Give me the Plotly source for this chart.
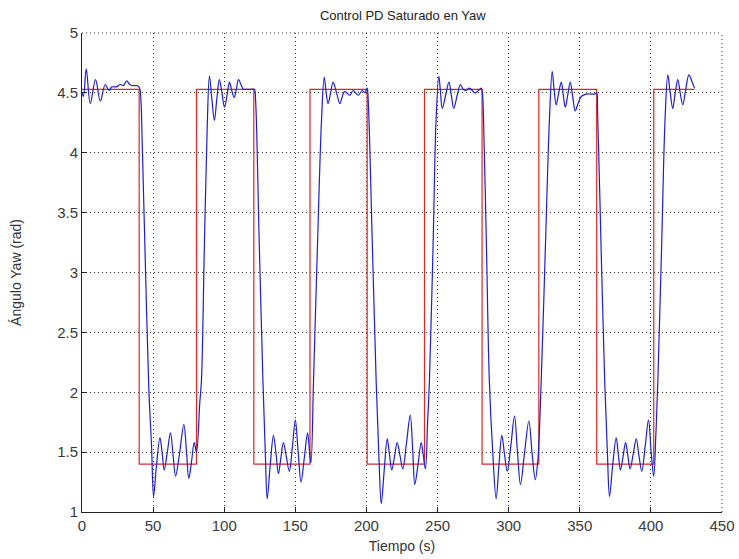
import plotly.graph_objects as go

# Reference (red) step signal: switching times and levels
ref_t = [0, 40.2, 80.5, 120.8, 160.3, 200.5, 240.8, 281.3, 321.2, 361.9, 402.0, 430.7]
ref_y = [4.53, 1.40, 4.53, 1.40, 4.53, 1.40, 4.53, 1.40, 4.53, 1.40, 4.53, 4.53]

yaw_t = [
    0, 1, 3.0, 5.8, 9.5, 12.9, 16.3, 19, 21, 24, 27, 29, 31.5, 33.5, 36, 39, 40.5,
    41.5, 42.3, 44.6, 47.0, 48.9, 50.3,
    52.3, 54.8, 56.3, 57.8, 60, 62.2, 64, 65.8, 68.5, 71.6, 73.5, 75.1, 77, 78.9, 80.5, 82.8, 84,
    86, 88, 89.6,
    91.3, 93.1, 94.8, 96.6, 98.4, 100.2, 102, 103.7, 105.3, 107, 108.5, 110, 111.8, 113.5, 116, 119, 121.2,
    122, 124.5, 127.2, 129, 130.2,
    132.4, 134.6, 136.3, 138.1, 139.8, 141.6, 143.7, 145.8, 148, 150, 152, 154, 156.3, 158.6, 160, 161, 162.8,
    165.5, 168.4, 170.3,
    171.7, 173, 174.8, 176.6, 179, 181.3, 182.8, 184.4, 186.3, 188.3, 190.7, 194.2, 197, 198.9, 200.5,
    201.2, 204, 206.8, 208.8, 210.4,
    212.5, 214.6, 216.2, 217.8, 219.7, 221.6, 223.6, 225.6, 228.2, 230.8, 232.6, 234, 236.3, 238.5, 240, 241.5, 243, 244.3,
    246.8, 249, 250.9,
    252.1, 253.3, 255.7, 258, 259.7, 261.4, 263.8, 266.1, 268, 270.1, 272, 273.6, 275, 276.7, 278.7, 280.7, 281.5,
    282.3, 284.4, 286.4, 288.8, 291.2,
    293.2, 295.2, 297.1, 299, 301.5, 304.1, 306.2, 308.3, 311.2, 314.2, 316.4, 318.7, 320.5, 322.9,
    325.8, 328.7, 330.6,
    332, 333.4, 335.2, 337, 338.4, 339.8, 341.5, 343.3, 345, 346.8, 349, 351, 354.5, 358, 360.4, 361.8,
    362.5, 365.0, 367.5, 369.4, 370.9,
    373.2, 375.6, 377.1, 378.6, 380.4, 382.2, 383.8, 385.4, 387.5, 389.7, 391.6, 393.6, 396, 398.3, 400.2, 402, 403.5, 404.9,
    407.5, 410, 411.9,
    413.6, 415.4, 417.1, 418.9, 420.6, 422.4, 424.5, 426.7, 428.7, 430.7,
]
yaw_y = [
    4.50, 4.47, 4.70, 4.41, 4.61, 4.43, 4.57, 4.52, 4.55, 4.55, 4.57, 4.56, 4.60, 4.57, 4.56, 4.56, 4.54,
    4.42, 4.10, 3.05, 2.02, 1.55, 1.13,
    1.38, 1.62, 1.50, 1.35, 1.50, 1.66, 1.48, 1.30, 1.48, 1.73, 1.50, 1.28, 1.42, 1.58, 1.50, 1.91, 2.10,
    3.20, 4.20, 4.64,
    4.45, 4.27, 4.45, 4.61, 4.50, 4.38, 4.48, 4.59, 4.52, 4.46, 4.53, 4.61, 4.57, 4.53, 4.53, 4.53, 4.53,
    4.45, 3.30, 2.10, 1.45, 1.11,
    1.40, 1.64, 1.50, 1.32, 1.45, 1.58, 1.46, 1.34, 1.55, 1.77, 1.50, 1.25, 1.45, 1.66, 1.50, 1.41, 2.10,
    3.20, 4.27, 4.63,
    4.50, 4.41, 4.50, 4.59, 4.50, 4.41, 4.46, 4.51, 4.50, 4.48, 4.52, 4.48, 4.52, 4.50, 4.54,
    4.45, 3.30, 2.10, 1.45, 1.07,
    1.35, 1.61, 1.48, 1.35, 1.46, 1.58, 1.47, 1.36, 1.58, 1.81, 1.50, 1.23, 1.40, 1.58, 1.47, 1.36, 1.75, 2.10,
    3.20, 4.29, 4.64,
    4.50, 4.37, 4.48, 4.59, 4.48, 4.37, 4.48, 4.57, 4.53, 4.52, 4.54, 4.53, 4.51, 4.50, 4.52, 4.54, 4.50,
    4.30, 3.20, 2.10, 1.50, 1.11,
    1.40, 1.64, 1.48, 1.34, 1.55, 1.80, 1.50, 1.23, 1.50, 1.76, 1.50, 1.27, 1.43, 2.10,
    3.20, 4.29, 4.68,
    4.52, 4.40, 4.50, 4.59, 4.48, 4.38, 4.48, 4.59, 4.47, 4.35, 4.42, 4.47, 4.49, 4.49, 4.49, 4.50,
    4.35, 3.20, 2.10, 1.50, 1.13,
    1.40, 1.62, 1.48, 1.35, 1.46, 1.58, 1.47, 1.36, 1.48, 1.61, 1.47, 1.34, 1.55, 1.77, 1.50, 1.30, 1.65, 2.10,
    3.20, 4.29, 4.65,
    4.50, 4.37, 4.50, 4.61, 4.50, 4.40, 4.53, 4.65, 4.60, 4.54,
]

x_ticks = [0, 50, 100, 150, 200, 250, 300, 350, 400, 450]
y_ticks = [1, 1.5, 2, 2.5, 3, 3.5, 4, 4.5, 5]

FONT = "Liberation Sans, Arial, sans-serif"
GRID_DASH = "1px,3px"

fig = go.Figure()
fig.add_trace(go.Scatter(x=ref_t, y=ref_y, mode="lines", line=dict(color="rgb(220,40,40)", width=1.2, shape="hv"),
                         showlegend=False, hoverinfo="skip"))
fig.add_trace(go.Scatter(x=yaw_t, y=yaw_y, mode="lines",
                         line=dict(color="rgb(30,30,210)", width=1.2, shape="spline", smoothing=1.0),
                         showlegend=False))

axis_common = dict(
    showgrid=True, gridcolor="rgba(0,0,0,0.8)", griddash=GRID_DASH, gridwidth=1,
    zeroline=False, showline=True, linecolor="#222", linewidth=1,
    ticks="inside", ticklen=5, tickcolor="#222", mirror=False, automargin=False,
    tickfont=dict(family=FONT, size=15, color="#3a3a3a"),
)

fig.update_xaxes(range=[0, 450], tickvals=x_ticks, **axis_common,
                 title=dict(text="Tiempo (s)", font=dict(family=FONT, size=14, color="#333"), standoff=8))
fig.update_yaxes(range=[1, 5], tickvals=y_ticks, **axis_common,
                 title=dict(text="Ángulo Yaw (rad)", font=dict(family=FONT, size=14, color="#333"), standoff=32))

# dotted top / right frame lines (grid at the range edges)
for x0, y0, x1, y1 in [(0, 1, 1, 1), (1, 0, 1, 1)]:
    fig.add_shape(type="line", xref="paper", yref="paper", x0=x0, y0=y0, x1=x1, y1=y1,
                  line=dict(color="rgba(0,0,0,0.8)", width=1, dash=GRID_DASH), layer="below")

fig.update_layout(
    width=739, height=559,
    margin=dict(l=82, r=17, t=33, b=47),
    paper_bgcolor="white", plot_bgcolor="white",
    title=dict(text="Control PD Saturado en Yaw", x=0.545, xanchor="center", y=0.973, yanchor="middle",
               font=dict(family=FONT, size=13, color="#222")),
)

fig.write_html("out.html", config={"displayModeBar": False},
               post_script="document.body.style.margin='0';document.body.style.overflow='hidden';")
